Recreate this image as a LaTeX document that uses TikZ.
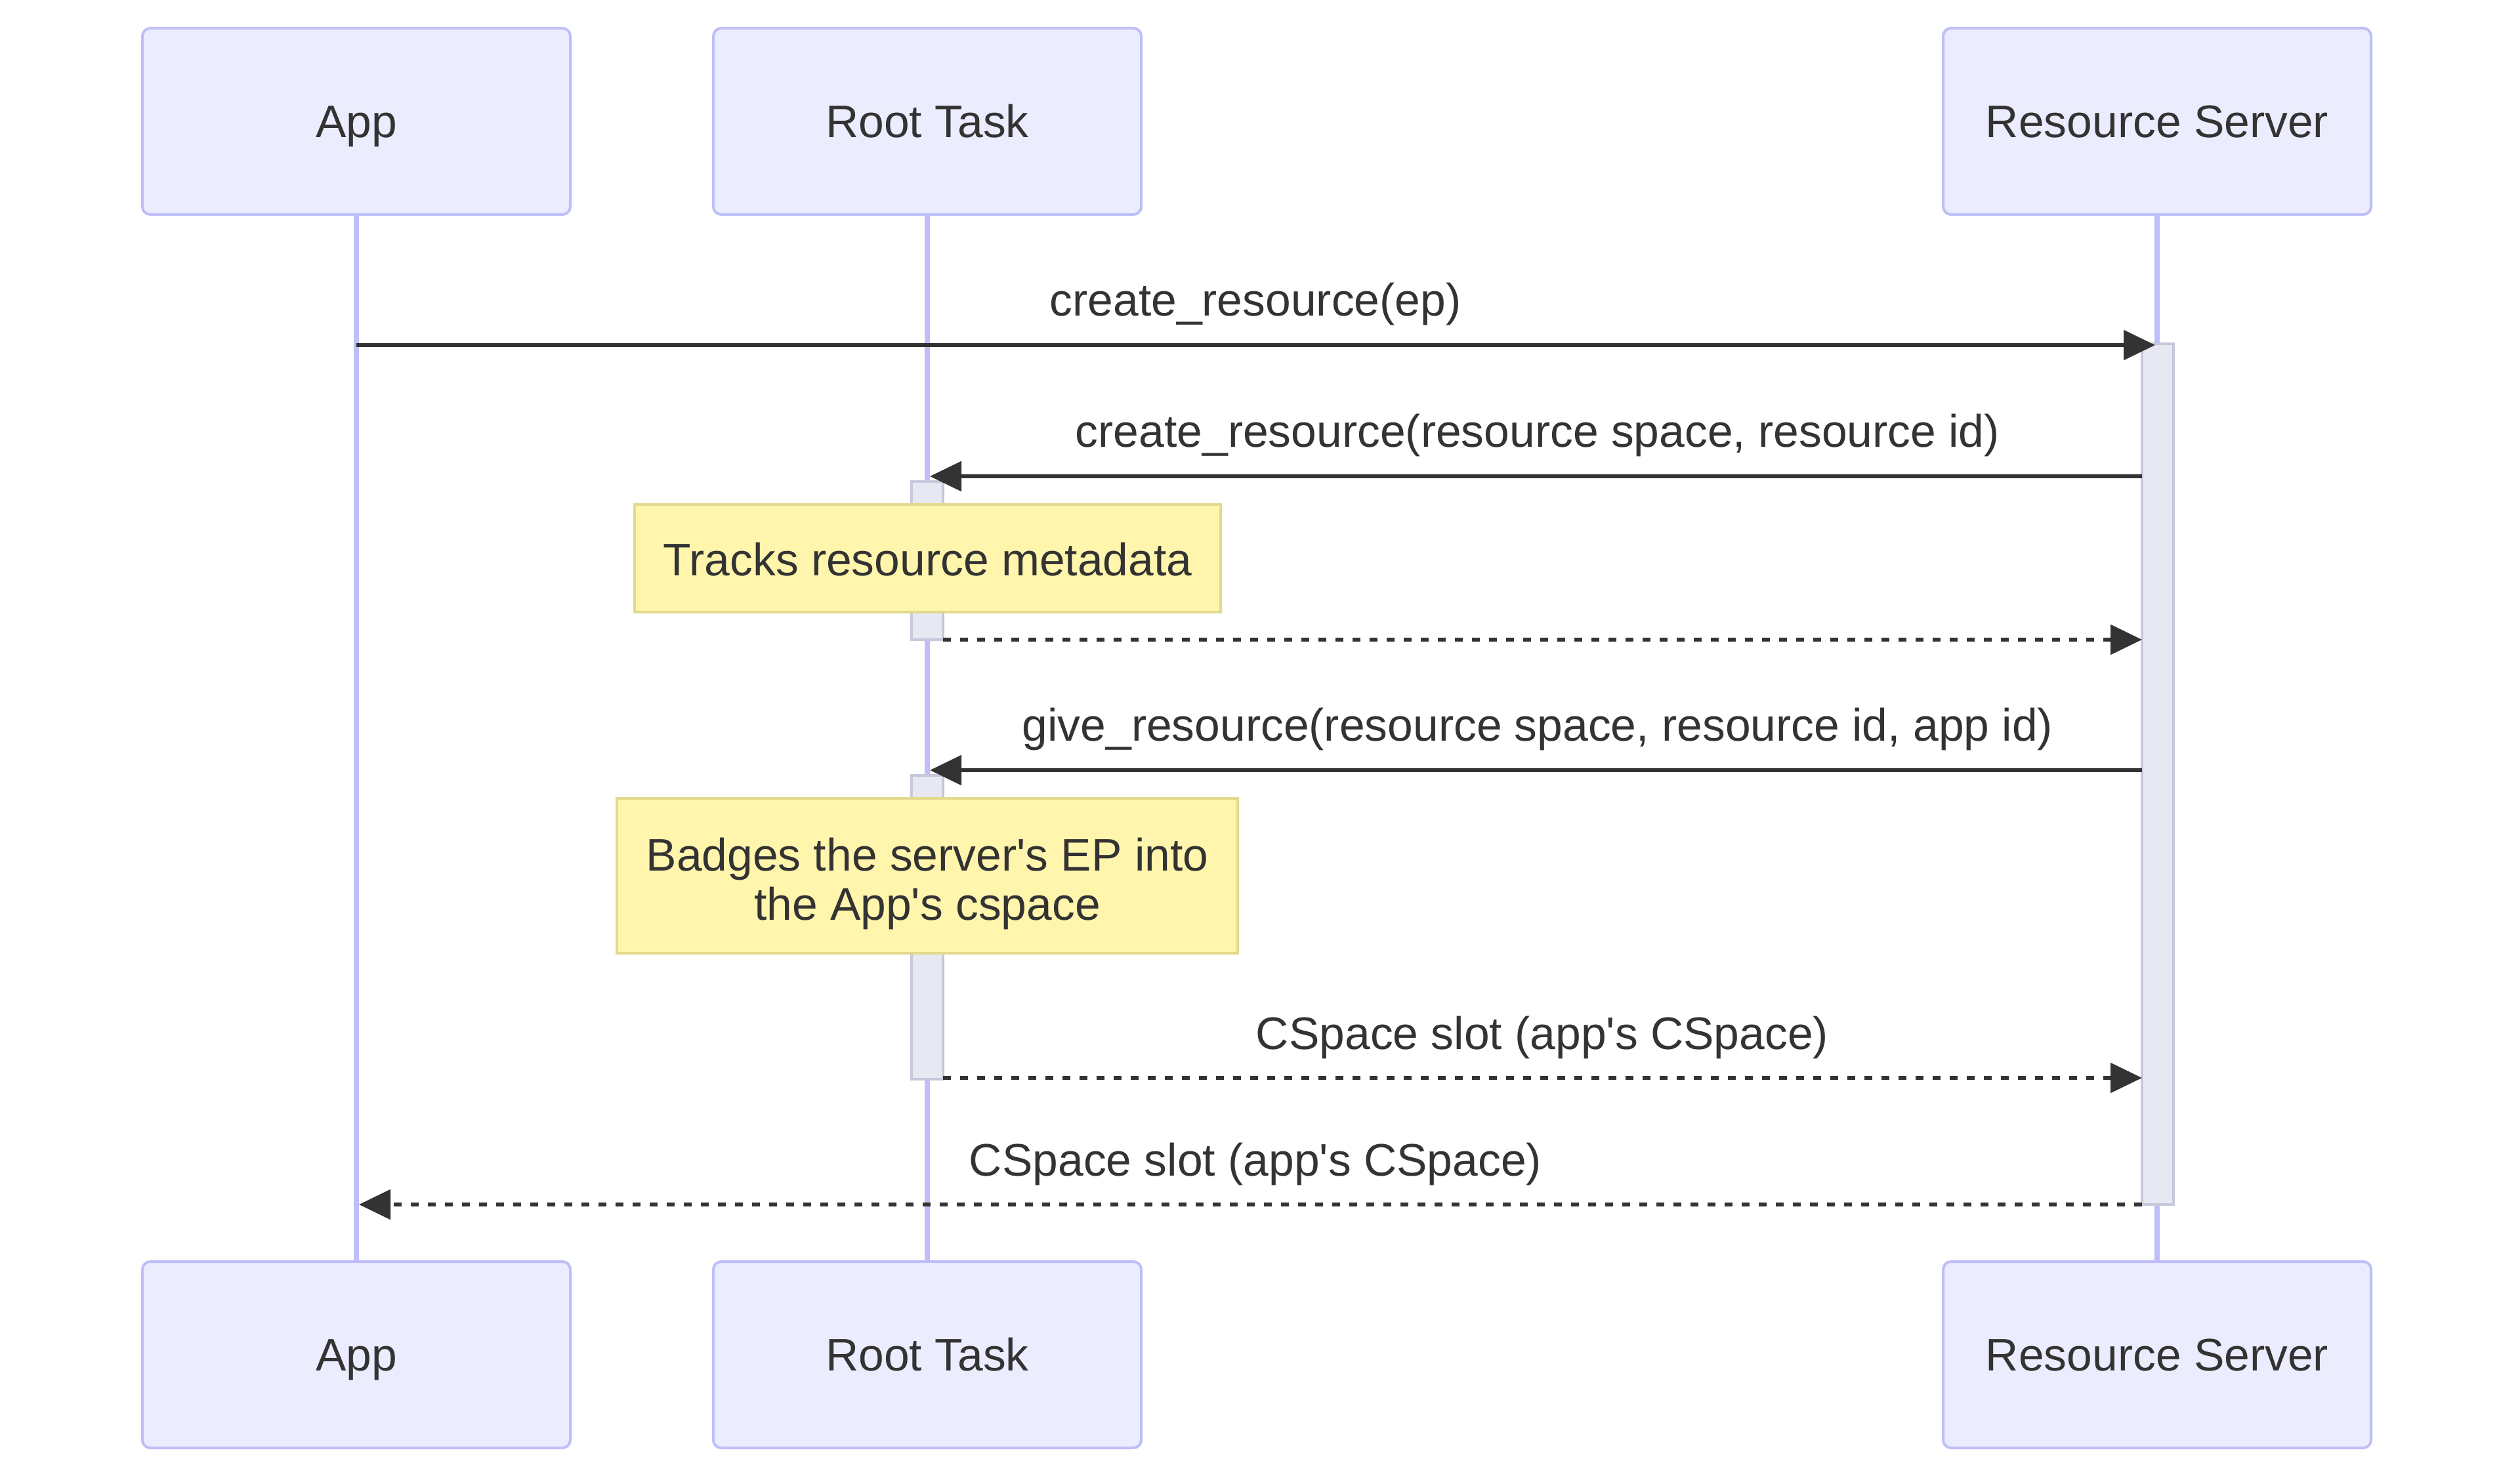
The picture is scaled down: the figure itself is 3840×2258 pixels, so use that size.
\documentclass[tikz,border=0pt]{standalone}
\usepackage{fontspec}
\setmainfont{Liberation Sans}
\usetikzlibrary{arrows.meta}
\definecolor{actfill}{HTML}{ECECFF}
\definecolor{actline}{RGB}{190,190,248}
\definecolor{actvfill}{RGB}{232,232,243}
\definecolor{actvline}{RGB}{200,200,220}
\definecolor{notefill}{HTML}{FFF5AD}
\definecolor{noteline}{RGB}{226,218,140}
\definecolor{txt}{HTML}{333333}
\newcommand{\apos}{\textquotesingle}
\begin{document}
\begin{tikzpicture}[x=0.25pt,y=-0.25pt,
  every node/.style={font=\fontsize{17.4}{18.75}\selectfont, text=txt},
  actor/.style={draw=actline, fill=actfill, line width=1pt, rounded corners=3pt,
    minimum width=163pt, minimum height=71pt, inner sep=0pt,
    text height=12.45pt, text depth=0pt},
  lifeline/.style={draw=actline, line width=2pt},
  actv/.style={draw=actvline, fill=actvfill, line width=1pt},
  notebox/.style={draw=noteline, fill=notefill, line width=1pt, inner sep=0pt, align=center},
  msg/.style={draw=txt, line width=1.4pt, -{Triangle[length=12pt,width=11.25pt]}},
  reply/.style={msg, dash pattern=on 3pt off 3.5pt},
  lbl/.style={anchor=base, inner sep=0pt}
]
\useasboundingbox[fill=white] (0,0) rectangle (3840,2258);

% actors
\node[actor] (appT) at (543,185) {App};
\node[actor] (rootT) at (1413,185) {Root Task};
\node[actor] (rsT) at (3287,185) {Resource Server};
\node[actor] (appB) at (543,2065) {App};
\node[actor] (rootB) at (1413,2065) {Root Task};
\node[actor] (rsB) at (3287,2065) {Resource Server};

% lifelines
\draw[lifeline] (appT.south) -- (appB.north);
\draw[lifeline] (rootT.south) -- (rootB.north);
\draw[lifeline] (rsT.south) -- (rsB.north);

% activations
\draw[actv] (3264,524) rectangle (3312,1836);
\draw[actv] (1389,734) rectangle (1437,975);
\draw[actv] (1389,1182) rectangle (1437,1645);

% notes
\node[notebox, minimum width=223.25pt, minimum height=41pt] (n1) at (1413.5,851) {};
\node[anchor=base] (n1t) at (1413.5,877) {Tracks resource metadata};
\node[notebox, minimum width=236.5pt, minimum height=59pt] (n2) at (1413,1335) {};
\node[anchor=base] (n2a) at (1413,1327) {Badges the server\apos s EP into};
\node[anchor=base] (n2b) at (1413,1402) {the App\apos s cspace};

% message endpoints
\coordinate (m1s) at (543,526);  \coordinate (m1e) at (3284,526);
\coordinate (m2s) at (3264,726); \coordinate (m2e) at (1417,726);
\coordinate (m3s) at (1437,975); \coordinate (m3e) at (3264,975);
\coordinate (m4s) at (3264,1174);\coordinate (m4e) at (1417,1174);
\coordinate (m5s) at (1437,1643);\coordinate (m5e) at (3264,1643);
\coordinate (m6s) at (3264,1836);\coordinate (m6e) at (547,1836);

\draw[msg] (m1s) -- (m1e);
\draw[msg] (m2s) -- (m2e);
\draw[reply] (m3s) -- (m3e);
\draw[msg] (m4s) -- (m4e);
\draw[reply] (m5s) -- (m5e);
\draw[reply] (m6s) -- (m6e);

% labels
\node[lbl] (l1) at (1913,481) {create\_resource(ep)};
\node[lbl] (l2) at (2343,681) {create\_resource(resource space, resource id)};
\node[lbl] (l4) at (2343,1129) {give\_resource(resource space, resource id, app id)};
\node[lbl] (l5) at (2350,1599) {CSpace slot (app\apos s CSpace)};
\node[lbl] (l6) at (1913,1792) {CSpace slot (app\apos s CSpace)};
\end{tikzpicture}
\end{document}
